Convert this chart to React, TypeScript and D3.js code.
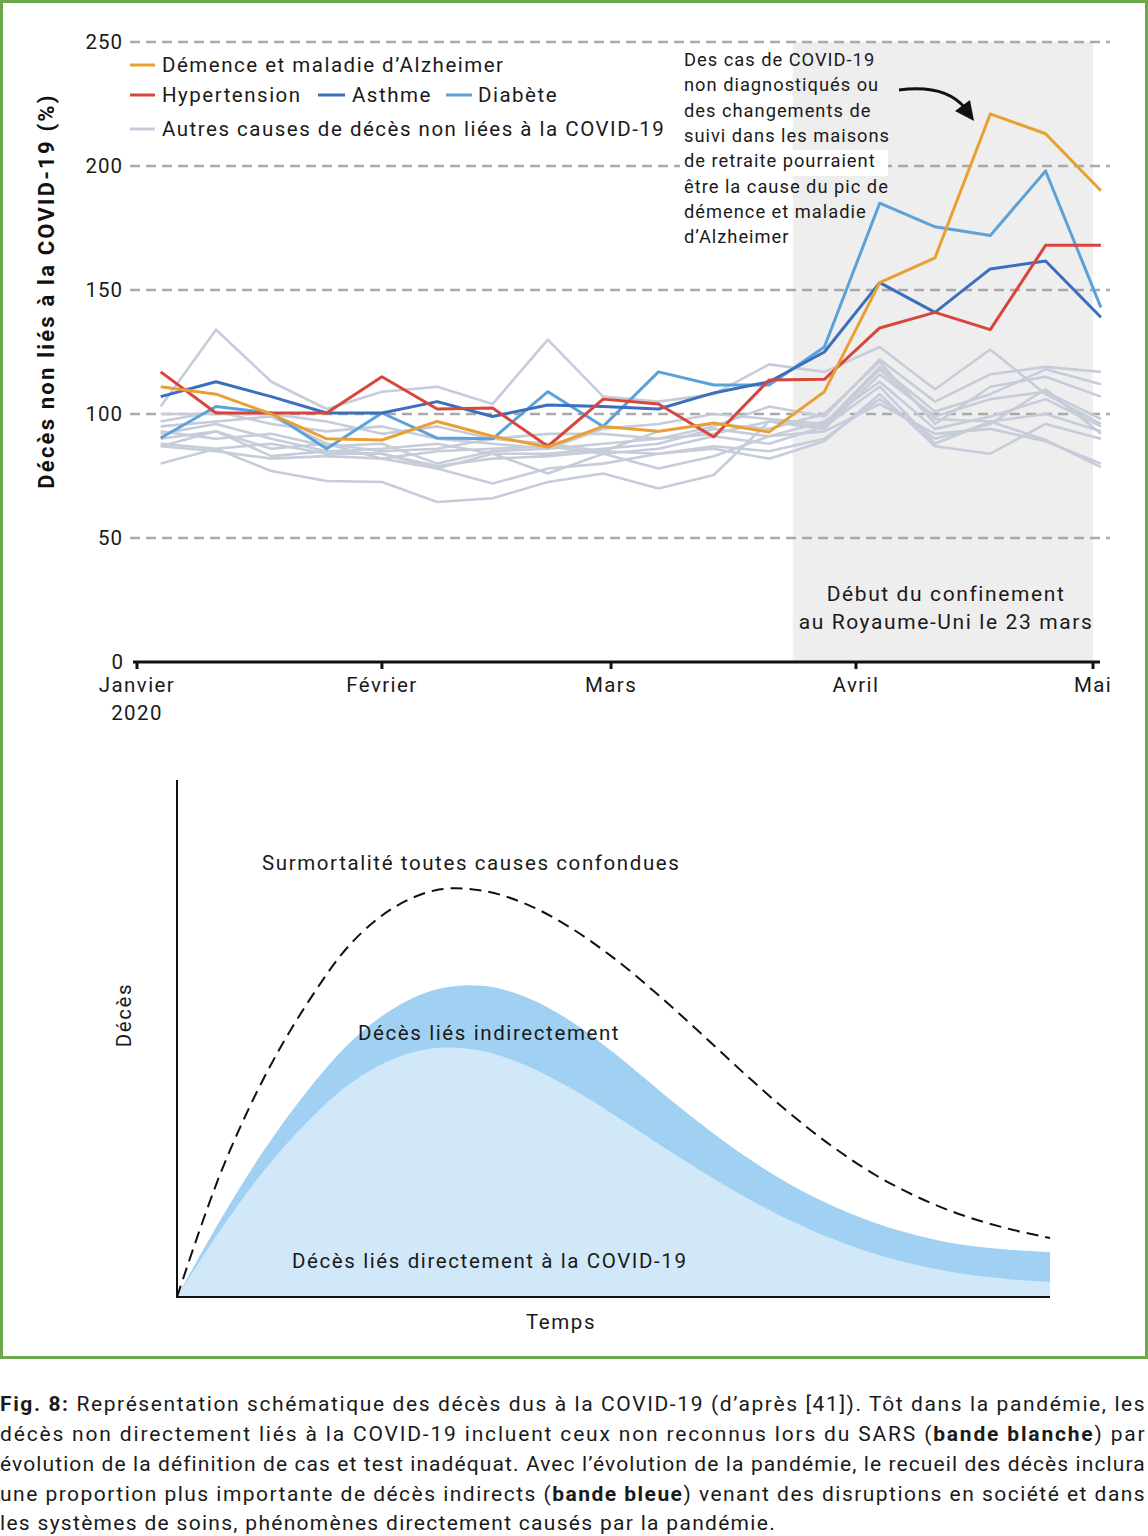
import React from 'react';
import * as d3 from 'd3';

// ---------- Top chart data ----------
const weeks = [
  "2020-01-04", "2020-01-11", "2020-01-18", "2020-01-25", "2020-02-01", "2020-02-08",
  "2020-02-15", "2020-02-22", "2020-02-29", "2020-03-07", "2020-03-14", "2020-03-21",
  "2020-03-28", "2020-04-04", "2020-04-11", "2020-04-18", "2020-04-25", "2020-05-02",
];
const dementia = [111, 108, 100, 90, 89.5, 97, 91, 86.7, 95, 93, 96.4, 92.7, 109, 153, 163, 221, 213, 190];
const hypertension = [117, 100.4, 100.4, 100.4, 115, 102, 102.4, 87, 106, 104, 90.7, 113.7, 114, 134.7, 141, 134, 168, 168];
const asthma = [107, 113, 107, 100.4, 100.4, 105, 99, 103.6, 103, 102, 108.5, 113, 125, 153, 141, 158.5, 161.7, 139];
const diabetes = [90.3, 103, 100.4, 86, 100.4, 90.3, 90, 109, 95, 117, 111.7, 111.7, 127, 185, 175.5, 172, 198, 143];
const otherCauses = [
  [103, 134, 113, 102, 109, 111, 104, 130, 107, 105, 108, 120, 117, 127, 110, 126, 108, 96],
  [100, 100, 100, 97, 92, 95, 90, 92, 92, 90, 95, 103, 99, 122, 105, 116, 119, 117],
  [97, 101, 96, 93, 95, 90, 88, 86, 94, 96, 100, 98, 96, 119, 101, 108, 118, 112],
  [95, 97, 99, 88, 85, 86, 90, 88, 85, 93, 96, 94, 100, 121, 96, 111, 115, 107],
  [93, 90, 92, 87, 88, 80, 85, 86, 88, 90, 92, 97, 94, 116, 99, 106, 109, 98],
  [92, 96, 90, 85, 86, 88, 84, 84, 86, 88, 94, 91, 97, 113, 94, 99, 106, 95],
  [90, 93, 86, 88, 82, 85, 86, 87, 84, 86, 91, 88, 95, 111, 88, 97, 100, 93],
  [88, 86, 88, 84, 84, 79, 82, 83, 85, 84, 87, 85, 90, 106, 90, 96, 110, 92],
  [87, 93, 83, 85, 84, 78, 72, 78, 80, 84, 86, 82, 89, 108, 87, 84, 96, 90],
  [87, 85, 82, 83, 82, 78, 84, 76, 84, 78, 83, 91, 93, 104, 92, 94, 89, 80],
  [80, 86, 77, 73, 72.6, 64.5, 66, 72.6, 76, 70, 75.4, 97, 95, 118, 98, 97, 89.5, 78.6],
];
const yTicks = [0, 50, 100, 150, 200, 250];
const monthTicks = ["2020-01-01", "2020-02-01", "2020-03-01", "2020-04-01", "2020-05-01"];
const monthLabels = [["Janvier", "2020"], ["Février"], ["Mars"], ["Avril"], ["Mai"]];
const lockdown = ["2020-03-24", "2020-05-01"];
const annotationLines = [
  "Des cas de COVID-19",
  "non diagnostiqués ou",
  "des changements de",
  "suivi dans les maisons",
  "de retraite pourraient",
  "être la cause du pic de",
  "démence et maladie",
  "d’Alzheimer",
];

// ---------- Bottom schematic data ----------
const schemTime = [0, 5, 10, 15, 20, 25, 30, 35, 40, 45, 50, 55, 60, 65, 70, 75, 80, 85, 90, 95, 100];
const excessAll = [0, 24, 42.5, 57, 68.5, 75.5, 78.8, 78.6, 76, 71.5, 65.6, 58.6, 51, 43.2, 35.8, 29.2, 23.6, 19.2, 15.8, 13.3, 11.4];
const indirectTop = [0, 15, 28.5, 40, 49.5, 56, 59.6, 60.2, 58, 53.5, 47.3, 40.3, 33.5, 27.3, 22, 17.7, 14.3, 11.8, 10.1, 9.2, 8.7];
const directTop = [0, 13, 24.5, 34, 41.5, 46.2, 48.2, 47.6, 44.8, 40.5, 35.3, 29.8, 24.4, 19.4, 15, 11.3, 8.3, 6.1, 4.5, 3.5, 2.9];

const FONT = "Roboto, 'DejaVu Sans', sans-serif";
const C = {
  orange: '#e8a035',
  red: '#d8453b',
  dblue: '#3b6fbe',
  lblue: '#5ba2d8',
  grey: '#c6ccda',
  grid: '#a9a9a9',
  shade: '#eeeeee',
  green: '#6aaa4c',
};

export default function App() {
  const parse = d3.timeParse('%Y-%m-%d');
  const dates = weeks.map((w) => parse(w) as Date);

  const x = d3.scaleTime()
    .domain([parse('2020-01-01') as Date, parse('2020-05-01') as Date])
    .range([137, 1093]);
  const y = d3.scaleLinear().domain([0, 250]).range([662, 42]);

  const line = d3.line<number>()
    .x((_, i) => x(dates[i]))
    .y((d) => y(d));

  const series = [
    { values: diabetes, color: C.lblue },
    { values: asthma, color: C.dblue },
    { values: hypertension, color: C.red },
    { values: dementia, color: C.orange },
  ];

  // bottom
  const sx = d3.scaleLinear().domain([0, 100]).range([177, 1050]);
  const sy = d3.scaleLinear().domain([0, 100]).range([1297, 780]);
  const curve = d3.curveCatmullRom.alpha(0.5);
  const areaGen = d3.area<number>()
    .x((_, i) => sx(schemTime[i]))
    .y0(sy(0))
    .y1((d) => sy(d))
    .curve(curve);
  const lineExcess = d3.line<number>()
    .x((_, i) => sx(schemTime[i]))
    .y((d) => sy(d))
    .curve(curve);

  const lx0 = x(parse(lockdown[0]) as Date);
  const lx1 = x(parse(lockdown[1]) as Date);

  const txt = { fontFamily: FONT, fill: '#1a1a1a' } as const;

  return (
    <div style={{ position: 'absolute', left: 0, top: 0 }}>
      <svg width={1148} height={1536} style={{ display: 'block', background: '#fff' }}>
        {/* green frame */}
        <rect x={1.5} y={1.5} width={1145} height={1356} fill="none" stroke={C.green} strokeWidth={3} />

        {/* lockdown shading */}
        <rect x={lx0} y={y(250)} width={lx1 - lx0} height={y(0) - y(250)} fill={C.shade} />

        {/* grid */}
        {yTicks.filter((t) => t > 0).map((t) => (
          <line key={t} x1={130} x2={1110} y1={y(t)} y2={y(t)} stroke={C.grid} strokeWidth={2.6} strokeDasharray="10 6" />
        ))}
        {/* y tick labels */}
        {yTicks.map((t) => (
          <text key={t} x={t === 0 ? 124 : 123} y={y(t) + 7} textAnchor="end" {...txt} fontSize={20.5} letterSpacing={1}>{t}</text>
        ))}

        {/* white box behind annotation line */}
        <rect x={680} y={150} width={208} height={26} fill="#fff" />

        {/* grey lines */}
        {otherCauses.map((s, i) => (
          <path key={i} d={line(s) || ''} fill="none" stroke={C.grey} strokeWidth={2.6} strokeLinejoin="round" />
        ))}
        {series.map((s, i) => (
          <path key={i} d={line(s.values) || ''} fill="none" stroke={s.color} strokeWidth={3} strokeLinejoin="round" />
        ))}

        {/* x axis */}
        <line x1={133} x2={1100} y1={y(0)} y2={y(0)} stroke="#111" strokeWidth={3} />
        {monthTicks.map((m, i) => {
          const xx = x(parse(m) as Date);
          return (
            <g key={m}>
              <line x1={xx} x2={xx} y1={y(0)} y2={y(0) + 7} stroke="#111" strokeWidth={3} />
              {monthLabels[i].map((l, j) => (
                <text key={j} x={xx} y={692 + j * 28} textAnchor="middle" {...txt} fontSize={20.5} letterSpacing={1.4}>{l}</text>
              ))}
            </g>
          );
        })}

        {/* y title */}
        <text transform="translate(54,291) rotate(-90)" textAnchor="middle" fontFamily={FONT} fontSize={22} fontWeight="bold" fill="#111" letterSpacing={2.2}>
          Décès non liés à la COVID-19 (%)
        </text>

        {/* legend */}
        <g {...txt} fontSize={20.5} letterSpacing={1.5}>
          <line x1={130} x2={155} y1={65} y2={65} stroke={C.orange} strokeWidth={3} />
          <text x={162} y={72}>Démence et maladie d’Alzheimer</text>
          <line x1={130} x2={155} y1={95} y2={95} stroke={C.red} strokeWidth={3} />
          <text x={162} y={102}>Hypertension</text>
          <line x1={318} x2={345} y1={95} y2={95} stroke={C.dblue} strokeWidth={3} />
          <text x={352} y={102}>Asthme</text>
          <line x1={446} x2={472} y1={95} y2={95} stroke={C.lblue} strokeWidth={3} />
          <text x={478} y={102}>Diabète</text>
          <line x1={130} x2={155} y1={129} y2={129} stroke={C.grey} strokeWidth={3} />
          <text x={162} y={136}>Autres causes de décès non liées à la COVID-19</text>
        </g>

        {/* annotation */}
        <g {...txt} fontSize={18.3} letterSpacing={1}>
          {annotationLines.map((l, i) => (
            <text key={i} x={684} y={66 + i * 25.3}>{l}</text>
          ))}
        </g>
        <path d="M 899 90 Q 945 84 965 108" fill="none" stroke="#111" strokeWidth={3} />
        <path d="M 974 121 L 955 111 L 970 100 Z" fill="#111" />

        {/* lockdown label */}
        <g {...txt} fontSize={21} letterSpacing={1.6} textAnchor="middle">
          <text x={946} y={601}>Début du confinement</text>
          <text x={946} y={629}>au Royaume-Uni le 23 mars</text>
        </g>

        {/* ---------- bottom schematic ---------- */}
        <path d={areaGen(indirectTop) || ''} fill="#a0d1f3" />
        <path d={areaGen(directTop) || ''} fill="#d1e8f9" />
        <path d={lineExcess(excessAll) || ''} fill="none" stroke="#111" strokeWidth={2} strokeDasharray="12 7" />
        <line x1={177} x2={177} y1={780} y2={1298} stroke="#111" strokeWidth={2} />
        <line x1={176} x2={1050} y1={1297} y2={1297} stroke="#111" strokeWidth={2} />
        <g {...txt} fontSize={20.5} letterSpacing={1.6}>
          <text x={262} y={870}>Surmortalité toutes causes confondues</text>
          <text x={358} y={1040}>Décès liés indirectement</text>
          <text x={292} y={1268}>Décès liés directement à la COVID-19</text>
          <text x={561} y={1329} textAnchor="middle">Temps</text>
          <text transform="translate(131,1015) rotate(-90)" textAnchor="middle">Décès</text>
        </g>

        {/* caption */}
        <g {...txt} fontSize={21} letterSpacing={1.3}>
          <text x={0} y={1411} textLength={1146} lengthAdjust="spacing">
            <tspan fontWeight="bold">Fig. 8:</tspan> Représentation schématique des décès dus à la COVID-19 (d’après [41]). Tôt dans la pandémie, les
          </text>
          <text x={0} y={1441} textLength={1146} lengthAdjust="spacing">
            décès non directement liés à la COVID-19 incluent ceux non reconnus lors du SARS (<tspan fontWeight="bold">bande blanche</tspan>) par
          </text>
          <text x={0} y={1471} textLength={1146} lengthAdjust="spacing">
            évolution de la définition de cas et test inadéquat. Avec l’évolution de la pandémie, le recueil des décès inclura
          </text>
          <text x={0} y={1501} textLength={1146} lengthAdjust="spacing">
            une proportion plus importante de décès indirects (<tspan fontWeight="bold">bande bleue</tspan>) venant des disruptions en société et dans
          </text>
          <text x={0} y={1530}>
            les systèmes de soins, phénomènes directement causés par la pandémie.
          </text>
        </g>
      </svg>
    </div>
  );
}
